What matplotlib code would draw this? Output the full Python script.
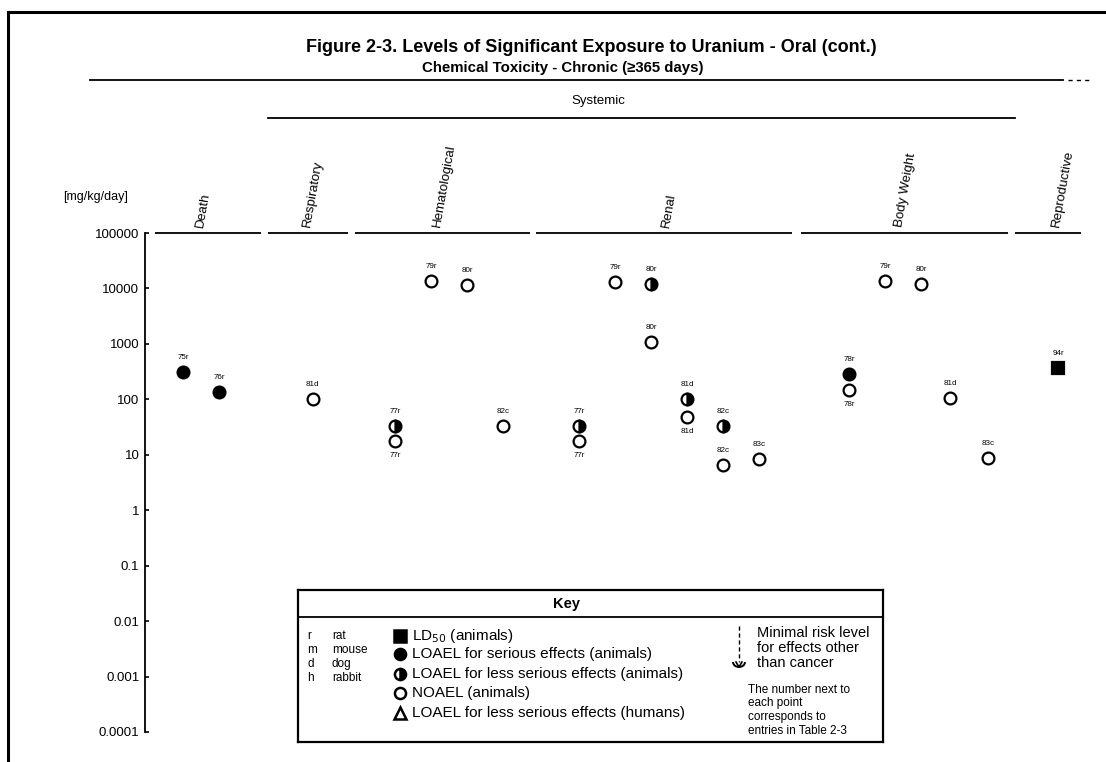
import matplotlib
matplotlib.use("Agg")
import matplotlib.pyplot as plt
from matplotlib.patches import Arc
import numpy as np

plt.rcParams['font.family'] = ['Liberation Sans', 'DejaVu Sans']

# ---------------- data ----------------
categories = ["Death", "Respiratory", "Hematological", "Renal", "Body Weight", "Reproductive"]
ytick_values = [1e5, 1e4, 1e3, 100, 10, 1, 0.1, 0.01, 0.001, 0.0001]
ytick_labels = ["100000", "10000", "1000", "100", "10", "1", "0.1", "0.01", "0.001", "0.0001"]

point_labels = ["75r", "76r", "81d", "77r", "77r", "79r", "80r", "82c",
                "77r", "77r", "79r", "80r", "80r", "81d", "81d", "82c", "82c", "83c",
                "78r", "78r", "79r", "80r", "81d", "83c", "94r"]
point_values = [310, 135, 100, 33, 17.5, 13500, 11500, 33,
                33, 17.5, 13000, 11800, 1090, 100, 48, 33, 6.6, 8.5,
                290, 150, 13500, 12000, 105, 8.8, 360]
# S = LOAEL serious, L = LOAEL less serious, N = NOAEL, D = LD50
point_types = ["S", "S", "N", "L", "N", "N", "N", "N",
               "L", "N", "N", "L", "N", "L", "N", "L", "N", "N",
               "S", "N", "N", "N", "N", "N", "D"]
point_slots = [1, 2, 4.6, 6.9, 6.9, 7.9, 8.9, 9.9,
               12, 12, 13, 14, 14, 15, 15, 16, 16, 17,
               19.5, 19.5, 20.5, 21.5, 22.3, 23.35, 25.3]
label_side = ["a", "a", "a", "a", "b", "a", "a", "a",
              "a", "b", "a", "a", "a", "a", "b", "a", "a", "a",
              "a", "b", "a", "a", "a", "a", "a"]

species_code = ["r", "m", "d", "h"]
species_name = ["rat", "mouse", "dog", "rabbit"]
key_text = ["LD$_{50}$ (animals)", "LOAEL for serious effects (animals)",
            "LOAEL for less serious effects (animals)", "NOAEL (animals)",
            "LOAEL for less serious effects (humans)"]
mrl_text = ["Minimal risk level", "for effects other", "than cancer"]
note_text = ["The number next to", "each point", "corresponds to", "entries in Table 2-3"]

# layout (slot units)
cat_spans = [(0.22, 3.17), (3.36, 5.58), (5.78, 10.64), (10.81, 17.9), (18.17, 23.92), (24.11, 25.94)]
cat_label_x = [1.47, 4.44, 8.05, 14.42, 20.89, 25.25]

W, H = 1106, 762
fig = plt.figure(figsize=(W / 100, H / 100), dpi=100)
fx = lambda px: px / W
fy = lambda py: 1 - py / H

# frame lines
fig.add_artist(plt.Line2D([fx(8), fx(8)], [fy(12), 0], color="black", lw=2.2))
fig.add_artist(plt.Line2D([fx(8), 1], [fy(12), fy(12)], color="black", lw=2.2))

# titles
fig.text(fx(591), fy(47), "Figure 2-3. Levels of Significant Exposure to Uranium - Oral (cont.)",
         ha="center", va="center", fontsize=13, fontweight="bold")
fig.text(fx(563), fy(68), "Chemical Toxicity - Chronic (\u2265365 days)",
         ha="center", va="center", fontsize=10.8, fontweight="bold")
fig.add_artist(plt.Line2D([fx(90), fx(1063)], [fy(80), fy(80)], color="black", lw=1.3))
fig.add_artist(plt.Line2D([fx(1068), fx(1090)], [fy(80), fy(80)], color="black", lw=1.0, ls=(0, (3, 3))))
fig.text(fx(598), fy(101), "Systemic", ha="center", va="center", fontsize=9.5)
fig.add_artist(plt.Line2D([fx(268), fx(1015)], [fy(118), fy(118)], color="black", lw=1.3))

fig.text(fx(96), fy(197), "[mg/kg/day]", ha="center", va="center", fontsize=9)

# main axes
ax = fig.add_axes([fx(145), fy(732), fx(1090) - fx(145), fy(233) - fy(732)])
ax.set_yscale("log")
ax.set_ylim(1e-4, 1e5)
ax.set_xlim(-0.056, 26.19)
for s in ["top", "right", "bottom"]:
    ax.spines[s].set_visible(False)
ax.spines["left"].set_linewidth(1.3)
ax.set_xticks([])
ax.set_yticks(ytick_values)
ax.set_yticklabels(ytick_labels)
ax.yaxis.set_minor_locator(matplotlib.ticker.NullLocator())
ax.tick_params(axis="y", direction="in", length=3, width=1.2, labelsize=9.5, pad=4)
ax.patch.set_alpha(0)

# category separators / labels
for (x0, x1), name, lx in zip(cat_spans, categories, cat_label_x):
    ax.hlines(1e5, x0, x1, color="black", lw=1.3, clip_on=False)
    ax.annotate(name, (lx, 1e5), xytext=(0, 4), textcoords="offset points",
                rotation=80, rotation_mode="anchor", ha="left", va="center", fontsize=9.5)

# points
style = {
    "S": dict(marker="o", markerfacecolor="black", markeredgecolor="black"),
    "L": dict(marker="o", fillstyle="right", markerfacecolor="black",
              markerfacecoloralt="white", markeredgecolor="black"),
    "N": dict(marker="o", markerfacecolor="white", markeredgecolor="black"),
    "D": dict(marker="s", markerfacecolor="black", markeredgecolor="black"),
}
for lab, v, t, x, side in zip(point_labels, point_values, point_types, point_slots, label_side):
    ax.plot([x], [v], linestyle="none", markersize=8.5, markeredgewidth=1.6, clip_on=False, **style[t])
    off = 10.5 if side == "a" else -10.5
    ax.annotate(lab, (x, v), xytext=(0, off), textcoords="offset points",
                ha="center", va="center", fontsize=5.8)

# key box
kx0, kx1, ky0, ky1 = 298, 883, 590, 742
kax = fig.add_axes([fx(kx0), fy(ky1), fx(kx1) - fx(kx0), fy(ky0) - fy(ky1)])
kax.set_xlim(kx0, kx1)
kax.set_ylim(ky1, ky0)
kax.set_xticks([]); kax.set_yticks([])
for s in kax.spines.values():
    s.set_linewidth(1.6)
kax.hlines(617, kx0, kx1, color="black", lw=1.3)
kax.text(567, 604, "Key", ha="center", va="center", fontsize=10.5, fontweight="bold")

for i, (c, n) in enumerate(zip(species_code, species_name)):
    yy = 636 + 14 * i
    kax.text(307, yy, c, ha="left", va="center", fontsize=8.5)
    kax.text(332, yy, n, ha="left", va="center", fontsize=8.5)

key_y = [636, 654, 674, 693, 713]
key_marks = [dict(marker="s", markerfacecolor="black", markeredgecolor="black"),
             dict(marker="o", markerfacecolor="black", markeredgecolor="black"),
             dict(marker="o", fillstyle="right", markerfacecolor="black",
                  markerfacecoloralt="white", markeredgecolor="black"),
             dict(marker="o", markerfacecolor="white", markeredgecolor="black"),
             dict(marker="^", markerfacecolor="white", markeredgecolor="black")]
for yy, mk, tx in zip(key_y, key_marks, key_text):
    kax.plot([400], [yy], linestyle="none", markersize=8, markeredgewidth=1.8, **mk)
    kax.text(412, yy, tx, ha="left", va="center", fontsize=11)

# MRL symbol
kax.plot([739, 739], [626, 662], color="black", lw=1, ls=(0, (3, 2)))
kax.add_patch(Arc((739, 662), 12, 10, theta1=0, theta2=180, lw=1.4, color="black"))
kax.plot([736, 739, 742], [662, 667, 662], color="black", lw=1.2)
for yy, tx in zip([633, 648, 663], mrl_text):
    kax.text(757, yy, tx, ha="left", va="center", fontsize=10.5)
for yy, tx in zip([690, 703, 717, 731], note_text):
    kax.text(748, yy, tx, ha="left", va="center", fontsize=8.5)

fig.savefig("out.png", dpi=100)
